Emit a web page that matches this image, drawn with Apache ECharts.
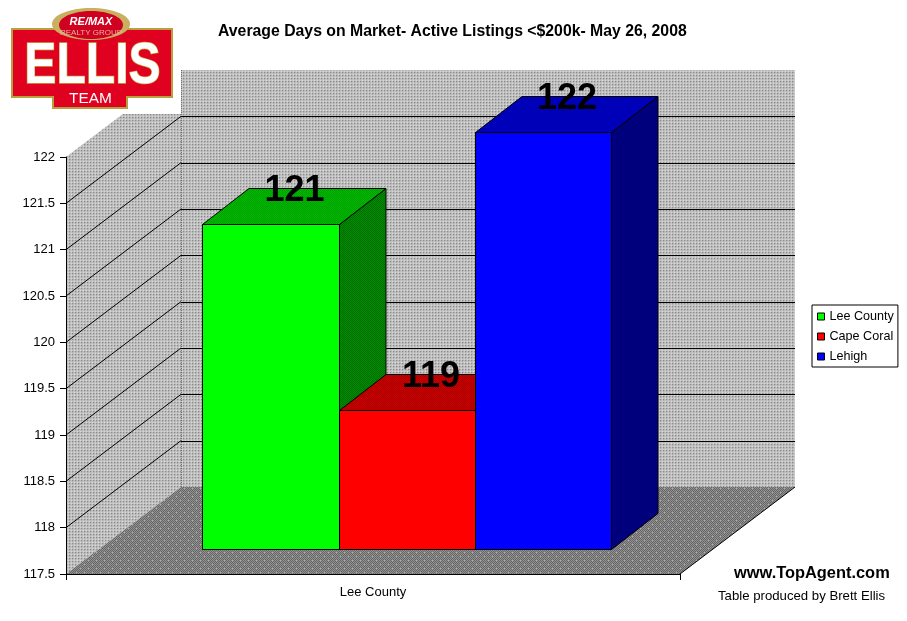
<!DOCTYPE html>
<html><head><meta charset="utf-8">
<style>html,body{margin:0;padding:0;background:#fff}#c{width:907px;height:621px}</style>
<script src="https://cdn.jsdelivr.net/npm/echarts@6/dist/echarts.min.js"></script>
</head><body><div id="c"></div>
<script>
const categories = ['Lee County'];
const seriesNames = ['Lee County', 'Cape Coral', 'Lehigh'];
const leeCounty = [121];
const capeCoral = [119];
const lehigh = [122];
const gridValues = [118, 118.5, 119, 119.5, 120, 120.5, 121, 121.5];
const axisMin = 117.5, axisMax = 122, axisStep = 0.5;
const titleText = 'Average Days on Market- Active Listings <$200k- May 26, 2008';

const FONT = '"Liberation Sans", Arial, sans-serif';
function tile(w, h, base, pixels) {
  const c = document.createElement('canvas'); c.width = w; c.height = h;
  const g = c.getContext('2d'); g.fillStyle = base; g.fillRect(0, 0, w, h);
  pixels.forEach(p => { g.fillStyle = p[2]; g.fillRect(p[0], p[1], 1, 1); });
  return { image: c, repeat: 'repeat' };
}
function dither(a, b) { return tile(2, 2, a, [[0,0,b],[1,1,b]]); }
const wallFill = tile(3, 3, '#c2c2c2', [[0,0,'#8a8a8a'],[1,0,'#b0b0b0'],[0,1,'#b0b0b0'],[2,2,'#d8d8d8']]);
const floorFill = tile(8, 8, '#808080', (()=>{const p=[];for(let y=0;y<8;y++)for(let x=0;x<8;x++){if((x+y)%2===0)p.push([x,y,'#666666']);else p.push([x,y,'#929292']);}p.push([0,0,'#b0b0b0']);p.push([4,4,'#b0b0b0']);return p;})());
const faces = [
  { top: dither('#00b800','#00a000'), side: dither('#008c00','#006e00') },
  { top: dither('#c80000','#ac0000'), side: dither('#800000','#600000') },
  { top: dither('#0000c8','#0000a8'), side: dither('#000088','#000070') }
];
const snap = v => Math.round(v) + 0.5;
const BACK = [115, -87];            // plot depth
const SHIFT = [33.8, -25.5];        // bar front plane inside the depth
const DEPTH = [46.5, -36];          // bar depth
const BAND = 2 / 9;

function wallsItem(params, api) {
  const lo = api.coord([0, axisMin]), hi = api.coord([0, axisMax]);
  const band = api.size([1, 0])[0];
  const L = lo[0] - band / 2, R = lo[0] + band / 2, B = lo[1], T = hi[1];
  const bx = BACK[0], by = BACK[1];
  const poly = (pts, fill) => ({ type: 'polygon', shape: { points: pts }, style: { fill: fill, stroke: null } });
  return { type: 'group', children: [
    poly([[L + bx, T + by], [R + bx, T + by], [R + bx, B + by], [L + bx, B + by]], wallFill),
    poly([[L, T], [L + bx, T + by], [L + bx, B + by], [L, B]], wallFill),
    poly([[L, B], [R, B], [R + bx, B + by], [L + bx, B + by]], floorFill),
    { type: 'line', shape: { x1: snap(L + bx), y1: T + by, x2: snap(L + bx), y2: B + by }, style: { stroke: '#707070', lineDash: [1, 1], lineWidth: 1 } },
    { type: 'line', shape: { x1: R, y1: B, x2: R + bx, y2: B + by }, style: { stroke: '#000', lineWidth: 1 } }
  ]};
}
function gridItem(params, api) {
  const p = api.coord([0, api.value(1)]);
  const band = api.size([1, 0])[0];
  const L = p[0] - band / 2, R = p[0] + band / 2, y = p[1];
  const bx = BACK[0], by = BACK[1];
  return { type: 'group', children: [
    { type: 'line', shape: { x1: L, y1: y, x2: L + bx, y2: y + by }, style: { stroke: '#000', lineWidth: 1 } },
    { type: 'line', shape: { x1: L + bx, y1: snap(y + by), x2: R + bx, y2: snap(y + by) }, style: { stroke: '#000', lineWidth: 1 } }
  ]};
}
function barItem(i) {
  return function (params, api) {
    const val = api.value(1);
    const top = api.coord([0, val]), bot = api.coord([0, axisMin]);
    const band = api.size([1, 0])[0];
    const w = band * BAND;
    const x0 = snap(top[0] - 1.5 * w + i * w + SHIFT[0]), x1 = snap(top[0] - 1.5 * w + (i + 1) * w + SHIFT[0]);
    const y0 = snap(top[1] + SHIFT[1]), y1 = snap(bot[1] + SHIFT[1]);
    const dx = DEPTH[0], dy = DEPTH[1];
    const st = fill => ({ fill: fill, stroke: '#000', lineWidth: 1 });
    return { type: 'group', children: [
      { type: 'polygon', shape: { points: [[x1, y0], [x1 + dx, y0 + dy], [x1 + dx, y1 + dy], [x1, y1]] }, style: st(faces[i].side) },
      { type: 'polygon', shape: { points: [[x0, y0], [x1, y0], [x1 + dx, y0 + dy], [x0 + dx, y0 + dy]] }, style: st(faces[i].top) },
      { type: 'rect', shape: { x: x0, y: y0, width: x1 - x0, height: y1 - y0 }, style: st(api.visual('color')) },
      { type: 'text', z2: 100, style: { text: String(val), x: (x0 + x1) / 2 + 23.5, y: y0 - 33.5, align: 'center', verticalAlign: 'middle', fill: '#000', font: 'bold 36px ' + FONT } }
    ]};
  };
}
const barSeries = [leeCounty, capeCoral, lehigh].map((vals, i) => ({
  type: 'custom', name: seriesNames[i], z: 5 + i, coordinateSystem: 'cartesian2d',
  itemStyle: { color: ['#00ff00', '#ff0000', '#0000ff'][i] },
  renderItem: barItem(i),
  encode: { x: 0, y: 1 },
  data: vals.map((v, k) => [categories[k], v])
}));

const chart = echarts.init(document.getElementById('c'), null, { renderer: 'canvas' });
const gz = 50;
chart.setOption({
  animation: false,
  backgroundColor: '#fff',
  title: [
    { text: titleText, left: 218, top: 24, padding: 0, textStyle: { fontFamily: FONT, fontSize: 15.8, fontWeight: 'bold', color: '#000' } },
    { text: 'www.TopAgent.com', left: 734, top: 565, padding: 0, textStyle: { fontFamily: FONT, fontSize: 16.4, fontWeight: 'bold', color: '#000' } },
    { text: 'Table produced by Brett Ellis', left: 718, top: 590, padding: 0, textStyle: { fontFamily: FONT, fontSize: 13.2, fontWeight: 'normal', color: '#000' } }
  ],
  legend: {
    data: seriesNames, orient: 'vertical', left: 812, top: 305, icon: 'rect', itemWidth: 7, itemHeight: 7, itemGap: 7,
    padding: [5, 4, 4, 5], backgroundColor: '#fff', borderColor: '#000', borderWidth: 1, borderRadius: 0, selectedMode: false,
    textStyle: { fontFamily: FONT, fontSize: 12.6, color: '#000' },
    itemStyle: { borderColor: '#000', borderWidth: 1 }
  },
  grid: { left: 66, top: 157, width: 614, height: 417, containLabel: false },
  xAxis: {
    type: 'category', data: categories, z: 3,
    axisLine: { lineStyle: { color: '#000', width: 1 } },
    axisTick: { show: true, length: 6, lineStyle: { color: '#000' } },
    axisLabel: { color: '#000', fontFamily: FONT, fontSize: 13, margin: 12 },
    splitLine: { show: false }
  },
  yAxis: {
    type: 'value', min: axisMin, max: axisMax, interval: axisStep, z: 3,
    axisLine: { show: true, lineStyle: { color: '#000', width: 1 } },
    axisTick: { show: true, length: 6, lineStyle: { color: '#000' } },
    axisLabel: { color: '#000', fontFamily: FONT, fontSize: 13, margin: 11, padding: [2, 0, 0, 0] },
    splitLine: { show: false }
  },
  series: [
    { type: 'custom', name: 'walls', z: 1, renderItem: wallsItem, data: [[categories[0], axisMin]], silent: true },
    { type: 'custom', name: 'grid', z: 2, renderItem: gridItem, data: gridValues.map(v => [categories[0], v]), silent: true }
  ].concat(barSeries),
  graphic: [
    { type: 'rect', z: gz, shape: { x: 0, y: 0, width: 181, height: 114 }, style: { fill: '#fff' } },
    { type: 'polygon', z: gz + 1, shape: { points: [[12,29],[172,29],[172,97],[127,97],[127,108],[53,108],[53,97],[12,97]] }, style: { fill: '#e0001f', stroke: '#b8a040', lineWidth: 2 } },
    { type: 'ellipse', z: gz + 2, shape: { cx: 91, cy: 24, rx: 39, ry: 16 }, style: { fill: '#c8b060' } },
    { type: 'ellipse', z: gz + 3, shape: { cx: 91, cy: 25, rx: 32, ry: 14 }, style: { fill: '#d00020' } },
    { type: 'text', z: gz + 4, style: { text: 'RE/MAX', x: 91, y: 22, align: 'center', verticalAlign: 'middle', fill: '#fff', font: 'italic bold 11px ' + FONT } },
    { type: 'text', z: gz + 4, style: { text: 'REALTY GROUP', x: 91, y: 33, align: 'center', verticalAlign: 'middle', fill: '#e8b0a0', font: '8px ' + FONT } },
    { type: 'text', z: gz + 4, x: 92.5, y: 67, scaleX: 0.83, style: { text: 'ELLIS', x: 0, y: 0, align: 'center', verticalAlign: 'middle', fill: '#fff', stroke: '#c8a840', lineWidth: 1.5, font: 'bold 58px ' + FONT } },
    { type: 'text', z: gz + 4, x: 90.5, y: 99, scaleX: 1.1, style: { text: 'TEAM', x: 0, y: 0, align: 'center', verticalAlign: 'middle', fill: '#fff', font: '14px ' + FONT } }
  ]
});
</script></body></html>
